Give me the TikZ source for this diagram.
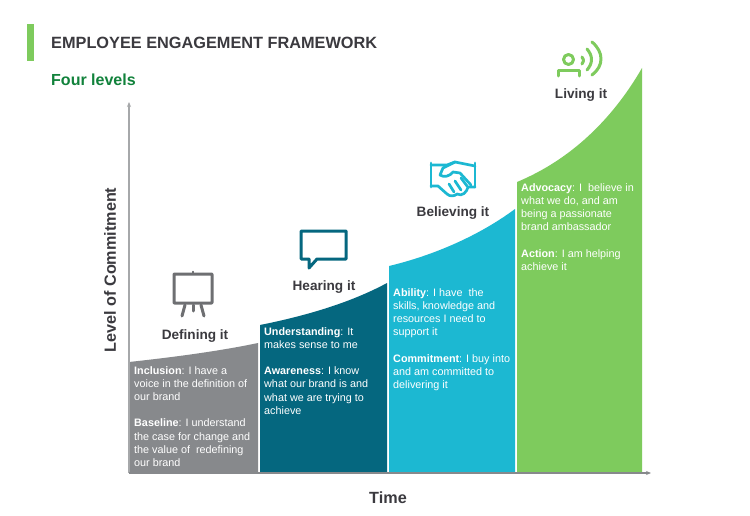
\documentclass[tikz,border=0pt]{standalone}
\usepackage{fontspec}
\setmainfont{Liberation Sans}
\definecolor{cgray}{HTML}{87898C}
\definecolor{cteal}{HTML}{05677F}
\definecolor{ccyan}{HTML}{1CB8D2}
\definecolor{cgreen}{HTML}{7ECB5D}
\definecolor{cdark}{HTML}{3B3A3F}
\definecolor{ctitle}{HTML}{11823B}
\definecolor{cicon}{HTML}{6E6F72}
\definecolor{caxis}{HTML}{A6A8AA}
\usetikzlibrary{arrows.meta}
\tikzset{
  body/.style={anchor=north west,inner sep=0pt,text=white,align=left,font=\fontsize{10.8}{13.1}\selectfont},
  lvl/.style={inner sep=0pt,text=cdark,font=\fontsize{13.6}{15}\selectfont\bfseries},
  axlab/.style={inner sep=0pt,text=cdark,font=\fontsize{16.2}{18}\selectfont\bfseries},
  axisline/.style={line width=1.3pt,-{Stealth[length=5pt,width=4pt]}},
  iconline/.style={line width=3pt,line cap=round,line join=round}
}
\begin{document}
\begin{tikzpicture}[x=1pt,y=-1pt]
\useasboundingbox (0,0) rectangle (750,516);
\fill[white] (0,0) rectangle (750,516);
% accent
\fill[cgreen] (27,24) rectangle (34,61);
\node[anchor=west,inner sep=0pt,text=cdark,font=\fontsize{16.3}{18}\selectfont\bfseries] (title) at (51,43) {EMPLOYEE ENGAGEMENT FRAMEWORK};
\node[anchor=west,inner sep=0pt,text=ctitle,font=\fontsize{16}{18}\selectfont\bfseries] (sub) at (51,80) {Four levels};
% areas
\fill[cgray] (129,362) .. controls (175,357) and (220,351) .. (258,343) -- (258,473) -- (129,473) -- cycle;
\fill[cteal] (260,325) .. controls (305,316) and (350,303) .. (387,283) -- (387,473) -- (260,473) -- cycle;
\fill[ccyan] (389,266) .. controls (435,255) and (480,235) .. (515,209) -- (515,473) -- (389,473) -- cycle;
\fill[cgreen] (517,182) .. controls (570,160) and (612,120) .. (642,68) -- (642,473) -- (517,473) -- cycle;
% axes
\coordinate (origin) at (129,473);
\coordinate (ytop) at (129,102);
\coordinate (xend) at (651,473);
\draw[axisline,caxis] (origin) -- (ytop);
\draw[axisline,cgray] (origin) -- (xend);
\node[axlab,rotate=90] (ylab) at (110,270) {Level of Commitment};
\node[axlab] (xlab) at (388,498) {Time};
% texts
\node[body] (t1) at (134,366.5) {\textbf{Inclusion}: I have a\\voice in the definition of\\our brand\\[13.1pt]\textbf{Baseline}: I understand\\the case for change and\\the value of~ redefining\\our brand};
\node[body] (t2) at (264,327.5) {\textbf{Understanding}: It\\makes sense to me\\[13.1pt]\textbf{Awareness}: I know\\what our brand is and\\what we are trying to\\achieve};
\node[body] (t3) at (393,288.5) {\textbf{Ability}: I have~ the\\skills, knowledge and\\resources I need to\\support it\\[13.1pt]\textbf{Commitment}: I buy into\\and am committed to\\delivering it};
\node[body] (t4) at (521,183.5) {\textbf{Advocacy}: I~ believe in\\what we do, and am\\being a passionate\\brand ambassador\\[13.1pt]\textbf{Action}: I am helping\\achieve it};
% level labels
\node[lvl] (l1) at (195,336) {Defining it};
\node[lvl] (l2) at (324,287) {Hearing it};
\node[lvl] (l3) at (453,213) {Believing it};
\node[lvl] (l4) at (581,95) {Living it};
% easel icon
\begin{scope}[iconline,cicon]
\draw[rounded corners=0.5pt] (174,274) rectangle (212,303);
\draw[line width=1.5pt] (193,271.5) -- (193,274);
\draw (185,305) -- (182,316);
\draw (193,305) -- (193,311);
\draw (201,305) -- (204,316);
\end{scope}
% speech bubble icon
\draw[iconline,cteal] (301,231) -- (346,231) -- (346,259) -- (317,259) -- (309,268) -- (309,259) -- (301,259) -- cycle;
% handshake icon
\begin{scope}[ccyan,line width=2.7pt,line cap=round,line join=round]
\draw (431,163) -- (431,187);
\draw (475,163) -- (475,187);
\draw (431,165) -- (447,165) -- (455,162) -- (475,166);
\draw (431,186) -- (438,186) -- (447,194) .. controls (450,197) and (455,196) .. (457,194) .. controls (462,197) and (467,192) .. (468,187) -- (475,187);
\draw (455,162) -- (443,168) -- (440,175) .. controls (444,178) and (450,176) .. (453,172) -- (460,173) -- (471,185);
\draw (449,184) -- (454,192);
\draw (455,181) -- (461,190);
\draw (461,178) -- (467,186);
\end{scope}
% living icon
\begin{scope}[iconline,cgreen]
\draw (568.5,59.5) circle (5);
\draw (558,76) -- (558,71) -- (579,71) -- (579,76);
\draw (582,57) .. controls (584,60) and (584,62) .. (582,64);
\draw (587,49) .. controls (593,56) and (593,63) .. (587,70);
\draw (592,42) .. controls (604,52) and (604,66) .. (592,75);
\end{scope}
\end{tikzpicture}
\end{document}
